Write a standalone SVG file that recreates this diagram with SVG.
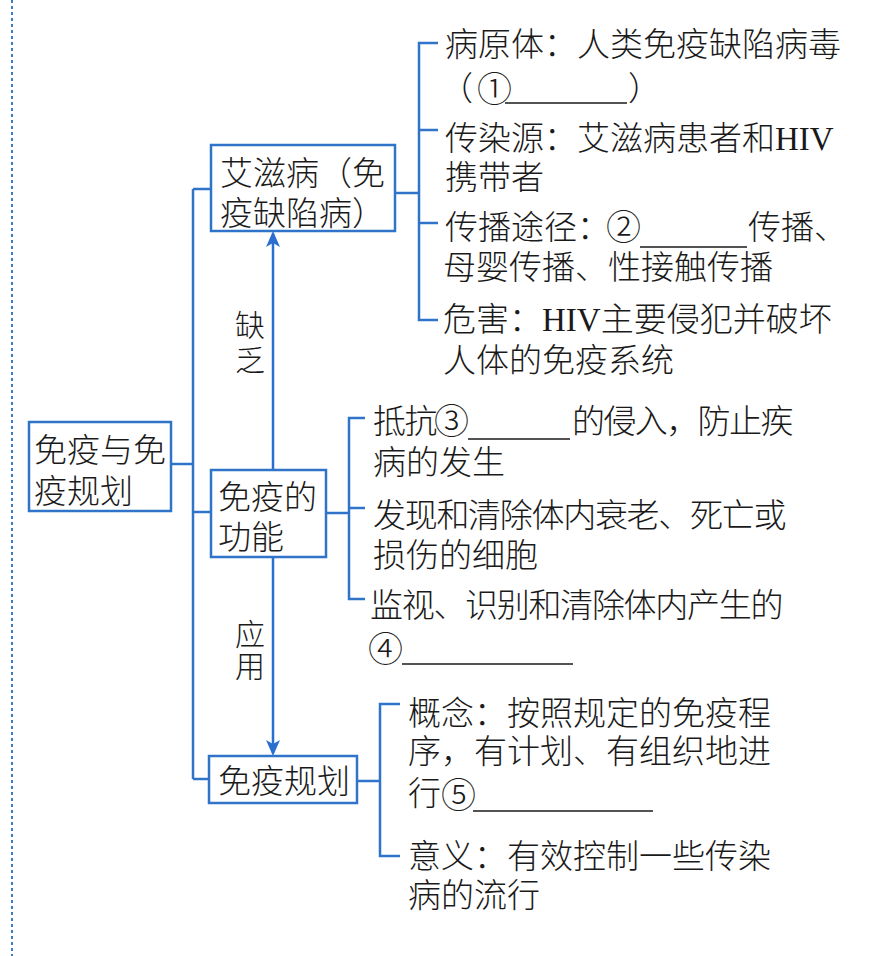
<svg xmlns="http://www.w3.org/2000/svg" width="877" height="956" viewBox="0 0 877 956">
<defs>
<style>
.t{font-family:"Liberation Serif","Noto Sans CJK SC",serif;font-size:33px;font-weight:300;fill:#1a1a1a}
.c{font-family:"Noto Sans CJK SC",sans-serif;font-size:35px}
.lb{font-family:"Liberation Serif","Noto Sans CJK SC",serif;font-size:30px;font-weight:300;fill:#1a1a1a;text-anchor:middle}
.box{fill:#fff;stroke:#2f74c8;stroke-width:2.5}
.ln{fill:none;stroke:#2f74c8;stroke-width:2.5}
.ar{fill:none;stroke:#2a6fd0;stroke-width:2.5}
.ul{stroke:#1a1a1a;stroke-width:1.6}
</style>
<marker id="ah" viewBox="-14 -8 18 16" refX="0" refY="0" markerWidth="18" markerHeight="16" markerUnits="userSpaceOnUse" orient="auto">
<path d="M3,0 L-13,-7 L-9,0 L-13,7 Z" fill="#2a6fd0"/>
</marker>
</defs>
<rect width="877" height="956" fill="#fff"/>
<line x1="12" y1="0" x2="12" y2="956" stroke="#3a7cc8" stroke-width="2" stroke-dasharray="3 3"/>

<g id="connectors">
<line class="ln" x1="171" y1="464" x2="193" y2="464"/>
<line class="ln" x1="193" y1="189" x2="193" y2="779"/>
<line class="ln" x1="193" y1="189" x2="211" y2="189"/>
<line class="ln" x1="193" y1="512" x2="211" y2="512"/>
<line class="ln" x1="193" y1="779" x2="209" y2="779"/>
<line class="ln" x1="395" y1="193" x2="419" y2="193"/>
<path class="ln" d="M438,43 H419 V320 H438"/>
<line class="ln" x1="419" y1="130" x2="438" y2="130"/>
<line class="ln" x1="419" y1="223" x2="438" y2="223"/>
<line class="ln" x1="326" y1="513" x2="349" y2="513"/>
<path class="ln" d="M365,418 H349 V599 H365"/>
<line class="ln" x1="349" y1="508" x2="365" y2="508"/>
<line class="ln" x1="357" y1="781" x2="380" y2="781"/>
<path class="ln" d="M400,704 H380 V856 H400"/>
<line class="ar" x1="273" y1="470" x2="273" y2="234" marker-end="url(#ah)"/>
<line class="ar" x1="273" y1="557" x2="273" y2="753" marker-end="url(#ah)"/>
<text class="lb" x="250" y="336">缺<tspan x="250" y="371">乏</tspan></text>
<text class="lb" x="250" y="645">应<tspan x="250" y="677">用</tspan></text>
</g>

<g id="root">
<rect class="box" x="29" y="422" width="142" height="89"/>
<text class="t" x="34" y="462">免疫与免<tspan x="34" y="503">疫规划</tspan></text>
</g>

<g id="aids">
<rect class="box" x="211" y="145" width="184" height="86"/>
<text class="t" x="220" y="185">艾滋病（免<tspan x="220" y="225">疫缺陷病）</tspan></text>
</g>

<g id="function">
<rect class="box" x="211" y="470" width="115" height="87"/>
<text class="t" x="218" y="509">免疫的<tspan x="218" y="549">功能</tspan></text>
</g>

<g id="plan">
<rect class="box" x="209" y="756" width="148" height="47"/>
<text class="t" x="218" y="793">免疫规划</text>
</g>

<g id="aids-items">
<text class="t" x="445" y="56">病原体：人类免疫缺陷病毒<tspan x="440" y="100">（</tspan><tspan class="c" x="477" y="102">①</tspan><tspan x="628" y="100">）</tspan></text>
<line class="ul" x1="505" y1="103" x2="627" y2="103"/>
<text class="t" x="445" y="150">传染源：艾滋病患者和HIV<tspan x="445" y="189">携带者</tspan></text>
<text class="t" x="445" y="239">传播途径：<tspan class="c" x="606" y="240">②</tspan><tspan x="748" y="239">传播、</tspan><tspan x="443" y="279">母婴传播、性接触传播</tspan></text>
<line class="ul" x1="640" y1="247" x2="747" y2="247"/>
<text class="t" x="443" y="331">危害：HIV主要侵犯并破坏<tspan x="443" y="372">人体的免疫系统</tspan></text>
</g>

<g id="function-items">
<text class="t" x="373" y="433"><tspan letter-spacing="-1.5">抵抗</tspan><tspan class="c" x="434" y="434">③</tspan><tspan x="572" y="433" letter-spacing="-1.6">的侵入，防止疾</tspan><tspan x="373" y="474">病的发生</tspan></text>
<line class="ul" x1="468" y1="439" x2="570" y2="439"/>
<text class="t" x="373" y="527"><tspan letter-spacing="-1.3">发现和清除体内衰老、死亡或</tspan><tspan x="373" y="567">损伤的细胞</tspan></text>
<text class="t" x="370" y="617"><tspan letter-spacing="-1.3">监视、识别和清除体内产生的</tspan><tspan class="c" x="368" y="662">④</tspan></text>
<line class="ul" x1="402" y1="664" x2="573" y2="664"/>
</g>

<g id="plan-items">
<text class="t" x="408" y="725">概念：按照规定的免疫程<tspan x="408" y="763">序，有计划、有组织地进</tspan><tspan x="408" y="805">行</tspan><tspan class="c" x="441" y="808">⑤</tspan></text>
<line class="ul" x1="473" y1="811" x2="653" y2="811"/>
<text class="t" x="408" y="868">意义：有效控制一些传染<tspan x="408" y="907">病的流行</tspan></text>
</g>
</svg>
